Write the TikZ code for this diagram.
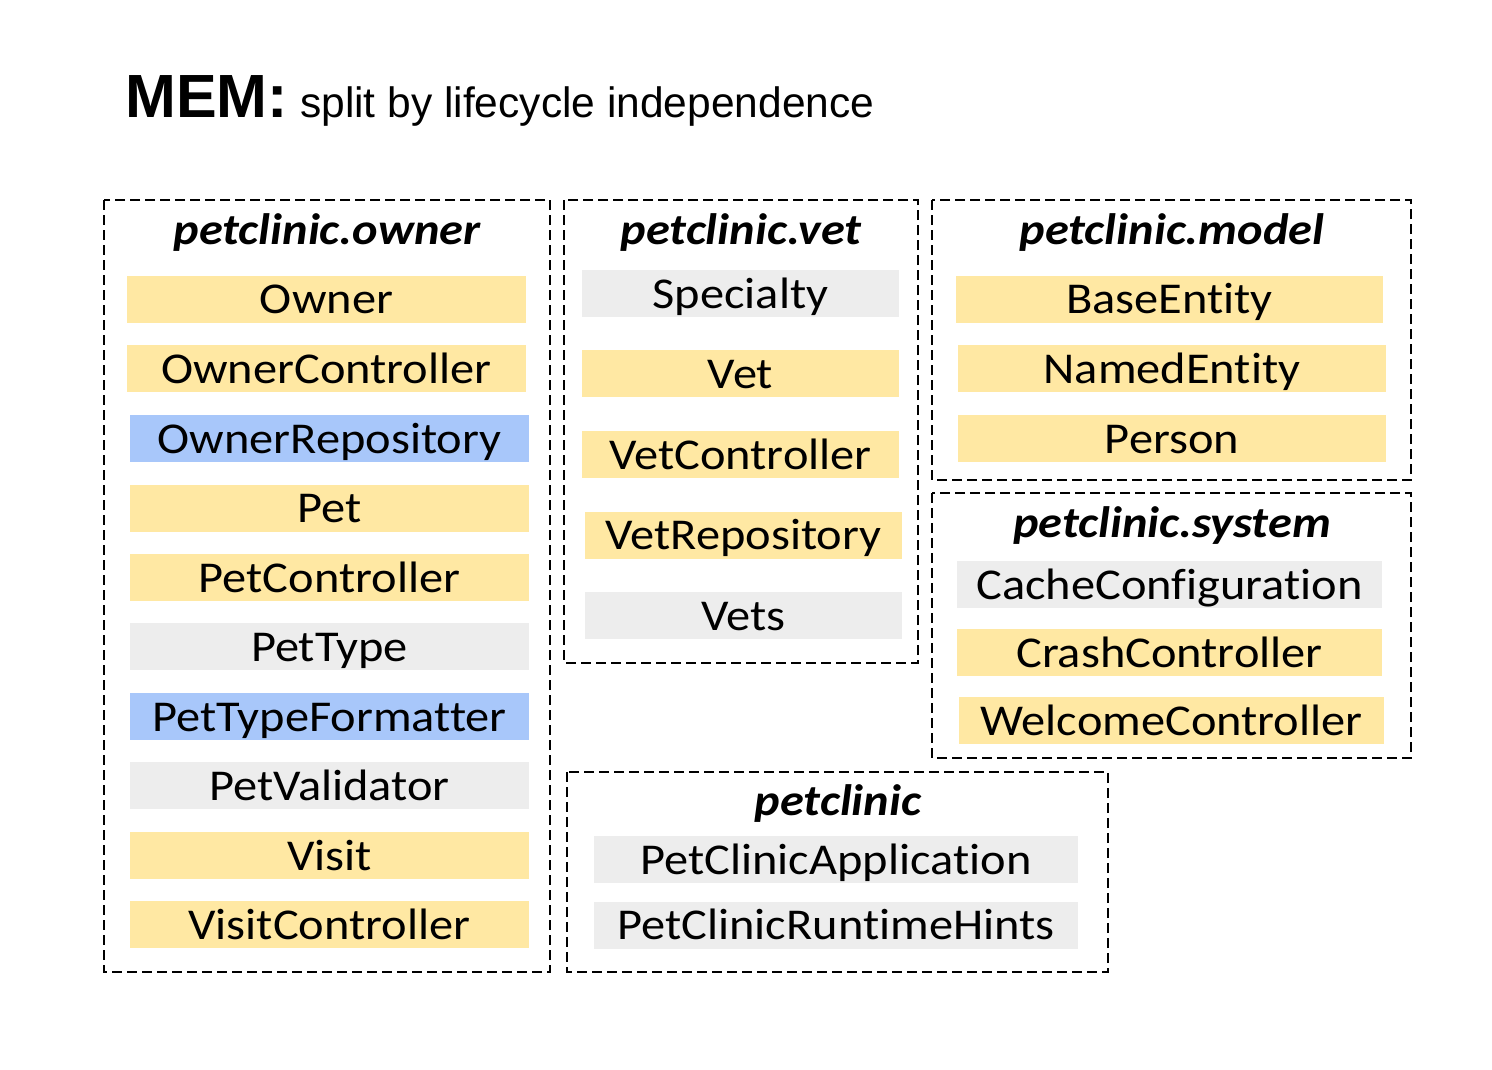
\documentclass[tikz,border=0pt]{standalone}
\usepackage{fontspec}
\setmainfont[FakeStretch=1.1,Ligatures=NoCommon]{Carlito}
\newfontfamily\headfont{Liberation Sans}
\usepackage{tikz}
\usetikzlibrary{positioning}

\definecolor{clsyellow}{HTML}{FFE8A3}
\definecolor{clsblue}{HTML}{A8C7FA}
\definecolor{clsgray}{HTML}{EDEDED}

\begin{document}
\begin{tikzpicture}[x=1pt,y=-1pt,
    cls/.style={rectangle,inner sep=0pt,minimum height=47pt,text height=32pt,text depth=3pt,
        font=\fontsize{44}{48}\selectfont},
    yel/.style={cls,fill=clsyellow},
    blu/.style={cls,fill=clsblue},
    gry/.style={cls,fill=clsgray},
    pkg/.style={draw,dash pattern=on 10pt off 5pt,line width=1.8pt},
    pkgname/.style={anchor=base,font=\fontsize{44}{48}\selectfont\bfseries\itshape}]
    \useasboundingbox (0,0) rectangle (1492,1070);

    \node (mem) [anchor=base west,inner sep=0pt,font=\headfont\fontsize{61}{64}\selectfont\bfseries] at (125,118) {MEM:};
    \node (memsub) [anchor=base west,inner sep=0pt,font=\headfont\fontsize{42.5}{46}\selectfont] at (300,118) {split by lifecycle independence};

    % petclinic.owner
    \draw [pkg] (104,200) rectangle (550,972);
    \node (ownerpkg) [pkgname] at (327,244) {petclinic.owner};
    \node (owner) [yel,minimum width=399pt] at (326.5,299) {Owner};
    \node (ownerctl) [yel,minimum width=399pt] at (326.5,368.5) {OwnerController};
    \node (ownerrepo) [blu,minimum width=399pt] at (329.5,438.5) {OwnerRepository};
    \node (pet) [yel,minimum width=399pt] at (329.5,508) {Pet};
    \node (petctl) [yel,minimum width=399pt] at (329.5,577.5) {PetController};
    \node (pettype) [gry,minimum width=399pt] at (329.5,646.5) {PetType};
    \node (pettypefmt) [blu,minimum width=399pt] at (329.5,716.5) {PetTypeFormatter};
    \node (petval) [gry,minimum width=399pt] at (329.5,785.5) {PetValidator};
    \node (visit) [yel,minimum width=399pt] at (329.5,855.5) {Visit};
    \node (visitctl) [yel,minimum width=399pt] at (329.5,924.5) {VisitController};

    % petclinic.vet
    \draw [pkg] (564,200) rectangle (918,663);
    \node (vetpkg) [pkgname] at (741,244) {petclinic.vet};
    \node (specialty) [gry,minimum width=317pt] at (740.5,293.5) {Specialty};
    \node (vet) [yel,minimum width=317pt] at (740.5,373.5) {Vet};
    \node (vetctl) [yel,minimum width=317pt] at (740.5,454.5) {VetController};
    \node (vetrepo) [yel,minimum width=317pt] at (743.5,535) {VetRepository};
    \node (vets) [gry,minimum width=317pt] at (743.5,615.5) {Vets};

    % petclinic.model
    \draw [pkg] (932,200) rectangle (1411,480);
    \node (modelpkg) [pkgname] at (1172,244) {petclinic.model};
    \node (baseent) [yel,minimum width=427pt] at (1169.5,299) {BaseEntity};
    \node (namedent) [yel,minimum width=428pt] at (1172,368.5) {NamedEntity};
    \node (person) [yel,minimum width=428pt] at (1172,438.5) {Person};

    % petclinic.system
    \draw [pkg] (932,493) rectangle (1411,758);
    \node (systempkg) [pkgname] at (1172,537) {petclinic.system};
    \node (cachecfg) [gry,minimum width=425pt] at (1169.5,584.5) {CacheConfiguration};
    \node (crashctl) [yel,minimum width=425pt] at (1169.5,652.5) {CrashController};
    \node (welcomectl) [yel,minimum width=425pt] at (1171.5,720.5) {WelcomeController};

    % petclinic
    \draw [pkg] (567,772) rectangle (1108,972);
    \node (rootpkg) [pkgname] at (838,815) {petclinic};
    \node (petclinicapp) [gry,minimum width=484pt] at (836,859.5) {PetClinicApplication};
    \node (runtimehints) [gry,minimum width=484pt] at (836,925) {PetClinicRuntimeHints};
\end{tikzpicture}
\end{document}
